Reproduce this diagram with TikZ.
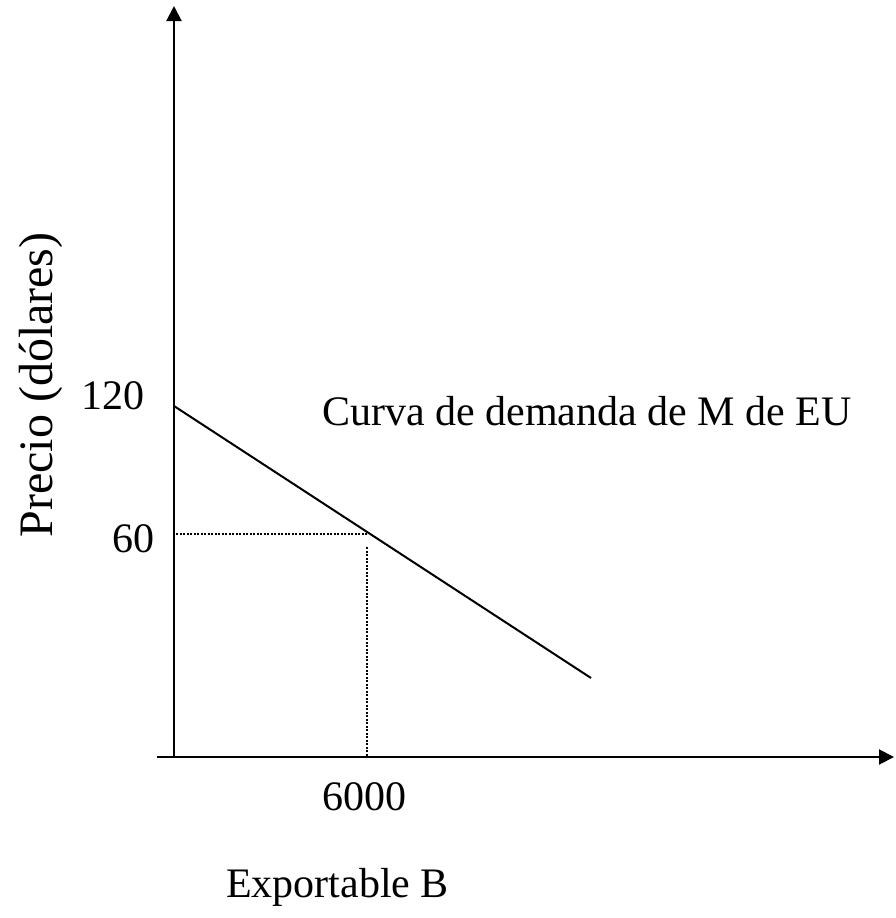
\documentclass[tikz,border=0pt]{standalone}
\usepackage{fontspec}
\setmainfont{Liberation Serif}
\usetikzlibrary{arrows.meta}
\begin{document}
\begin{tikzpicture}[x=1pt,y=-1pt,
  axis/.style={line width=2pt,-{Triangle[length=15pt,width=15pt]}},
  curve/.style={line width=2pt},
  guide/.style={line width=1.3pt,dash pattern=on 2pt off 1.5pt},
  lbl/.style={inner sep=0pt,font=\fontsize{42}{48}\selectfont}]
\useasboundingbox (0,0) rectangle (895,918);
\coordinate (O) at (174,757);
\coordinate (ytop) at (174,6);
\coordinate (xleft) at (157,757);
\coordinate (xright) at (894,757);
\coordinate (d1) at (174,406);
\coordinate (d2) at (591,678);
\coordinate (hs) at (176,534);
\coordinate (E) at (368,534);
\coordinate (vs) at (367,547);
\coordinate (Ex) at (367,756);
\draw[axis] (O) -- (ytop);
\draw[axis] (xleft) -- (xright);
\draw[curve] (d1) -- (d2);
\draw[guide] (hs) -- (E);
\draw[guide] (vs) -- (Ex);
\node[lbl,anchor=base east] (l120) at (145,409) {120};
\node[lbl,anchor=base east] (l60) at (155,552) {60};
\node[lbl,anchor=base west] (l6000) at (322,810) {6000};
\node[lbl,anchor=base west] (lxb) at (226,897) {Exportable B};
\node[lbl,anchor=base west] (lcurve) at (322,425) {Curva de demanda de M de EU};
\node[inner sep=0pt,font=\fontsize{48}{54}\selectfont,rotate=90,anchor=base] (ly) at (52,385) {Precio (dólares)};
\end{tikzpicture}
\end{document}
